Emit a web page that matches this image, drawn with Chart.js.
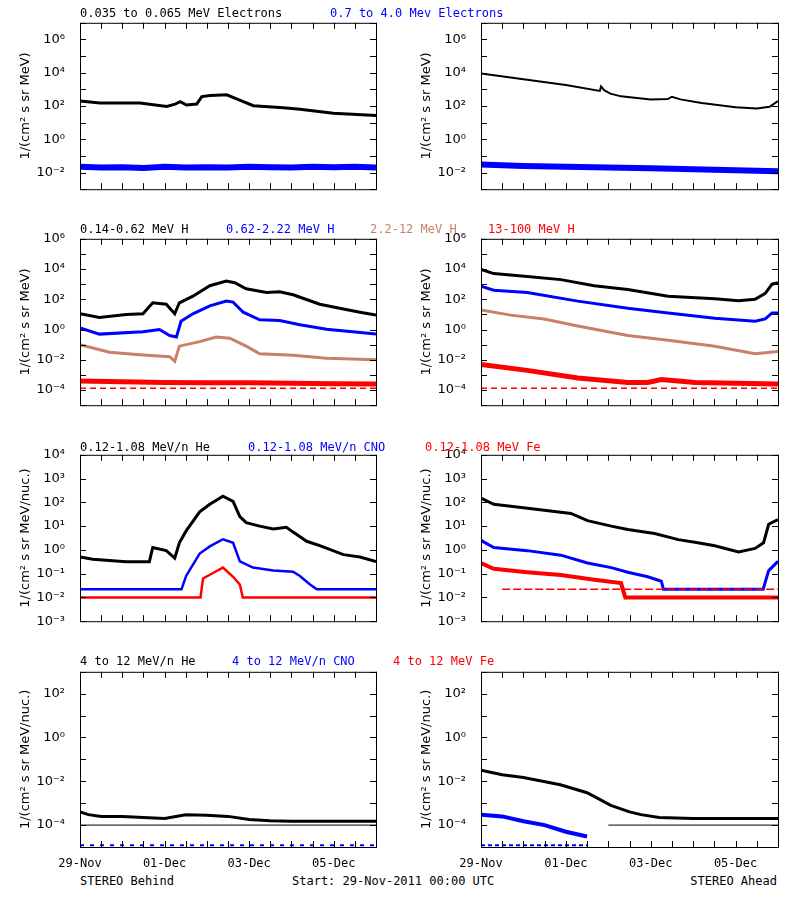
<!DOCTYPE html>
<html><head><meta charset="utf-8">
<script src="https://cdn.jsdelivr.net/npm/chart.js@4/dist/chart.umd.min.js"></script>
<style>
body{margin:0;background:#fff;width:800px;height:900px;position:relative;overflow:hidden;font-family:"DejaVu Sans Mono",monospace;font-size:12px}
canvas{position:absolute}
.t{position:absolute;white-space:pre;font-size:12px;line-height:14px}
</style></head><body>
<script>
// ---------- tick labels ----------
const dateLabels = ['29-Nov','01-Dec','03-Dec','05-Dec'];
// ---------- Row 1: electrons ----------
const e1L_t = [0,0.47,1.42,2.05,2.25,2.37,2.52,2.76,2.88,3.08,3.47,3.79,4.1,4.81,5.2,5.99,7];
const e1L_v = [200,150,150,95,130,180,115,130,370,430,470,220,105,78,63,37,27];
const e2L_t = [0,0.5,1,1.5,2,2.5,3,3.5,4,4.5,5,5.5,6,6.5,7];
const e2L_v = [0.022,0.02,0.021,0.019,0.022,0.02,0.021,0.02,0.022,0.021,0.02,0.022,0.021,0.022,0.02];
const e1R_t = [0,1,2,2.8,2.83,2.9,3.05,3.3,4,4.4,4.5,4.7,5.2,6,6.5,6.8,7];
const e1R_v = [9000,4000,1800,800,1500,900,550,380,250,260,360,250,150,85,70,90,200];
const e2R_t = [0,1,2,3,4,5,6,7];
const e2R_v = [0.03,0.025,0.022,0.02,0.018,0.016,0.014,0.012];
// ---------- Row 2: protons ----------
const h1L_t = [0,0.46,1.09,1.49,1.72,2.04,2.24,2.35,2.67,3.07,3.46,3.66,3.93,4.41,4.72,5.04,5.67,6.23,6.62,7];
const h1L_v = [11,6.3,10,11,59,47,11,59,160,790,1600,1260,500,280,320,200,47,23,14,9];
const h2L_t = [0,0.46,1.49,1.88,2.12,2.28,2.39,2.67,3.07,3.46,3.62,3.86,4.25,4.72,5.2,5.83,7];
const h2L_v = [1.3,0.5,0.72,1.0,0.4,0.32,3.5,11,37,76,65,14,4.4,4.0,2.1,1.05,0.5];
const h3L_t = [0,0.7,1.49,2.12,2.24,2.35,2.83,3.22,3.54,3.93,4.25,5.04,5.83,7];
const h3L_v = [0.1,0.032,0.021,0.016,0.008,0.08,0.16,0.32,0.27,0.08,0.025,0.02,0.0126,0.01];
const h4L_t = [0,1,2,3,4,5,6,7];
const h4L_v = [4e-4,3.5e-4,3.2e-4,3e-4,3e-4,2.8e-4,2.6e-4,2.5e-4];
const h1R_t = [0,0.3,1.09,1.88,2.67,3.46,4.41,5.51,6.07,6.46,6.7,6.86,7];
const h1R_v = [9500,5000,3200,2000,800,450,160,110,80,100,250,1000,1260];
const h2R_t = [0,0.3,1.09,2.28,3.46,4.41,5.51,6.46,6.7,6.86,7];
const h2R_v = [740,400,280,76,26,12.6,5.6,3.5,5,12.6,12.6];
const h3R_t = [0,0.7,1.49,2.28,3.46,4.41,5.51,6.46,7];
const h3R_v = [20,9,5,1.7,0.4,0.2,0.08,0.025,0.035];
const h4R_t = [0,1.09,2.28,3.46,3.93,4.25,4.65,5.04,7];
const h4R_v = [5e-3,2e-3,6.3e-4,3.2e-4,3.2e-4,5e-4,4e-4,3.2e-4,2.5e-4];
const hBase_t = [0,7];
const hBase_v = [1.3e-4,1.3e-4];
// ---------- Row 3: low-energy ions ----------
const he1L_t = [0,0.3,1.09,1.64,1.72,2.04,2.24,2.35,2.51,2.83,3.07,3.38,3.62,3.78,3.93,4.25,4.57,4.88,5.04,5.36,5.67,6.23,6.62,7];
const he1L_v = [0.5,0.4,0.32,0.32,1.26,0.93,0.45,2,6.3,40,83,180,110,25,14,10,7.6,9,5.6,2.3,1.5,0.63,0.5,0.32];
const cno1L_t = [0,2.4,2.51,2.83,3.07,3.38,3.62,3.78,4.09,4.57,5.04,5.2,5.44,5.6,7];
const cno1L_v = [0.022,0.022,0.08,0.7,1.4,2.8,2.0,0.33,0.18,0.135,0.12,0.08,0.035,0.022,0.022];
const fe1L_t = [0,2.85,2.91,3.2,3.38,3.62,3.78,3.85,7];
const fe1L_v = [0.01,0.01,0.063,0.12,0.18,0.074,0.035,0.01,0.01];
const he1R_t = [0,0.3,0.7,1.49,2.12,2.51,3.07,3.46,4.09,4.65,5.04,5.51,6.07,6.46,6.66,6.78,7];
const he1R_v = [150,83,68,46,34,17,10,7.2,4.9,2.7,2.1,1.5,0.81,1.15,2,12,18.6];
const cno1R_t = [0,0.3,1.09,1.88,2.51,3.07,3.46,3.93,4.25,4.3,6.65,6.78,7];
const cno1R_v = [2.5,1.26,0.93,0.6,0.28,0.18,0.115,0.074,0.048,0.022,0.022,0.135,0.33];
const fe1R_t = [0,0.3,1.09,1.88,2.67,3.3,3.4,7];
const fe1R_v = [0.28,0.16,0.115,0.087,0.055,0.04,0.01,0.01];
const feBase_t = [0.5,7];
const feBase_v = [0.022,0.022];
// ---------- Row 4: high-energy ions ----------
const he2L_t = [0,0.2,0.5,1,1.5,2,2.5,3,3.5,4,4.5,5,6,7];
const he2L_v = [4e-4,3e-4,2.5e-4,2.5e-4,2.2e-4,2e-4,3e-4,2.8e-4,2.5e-4,1.8e-4,1.6e-4,1.5e-4,1.5e-4,1.5e-4];
const heLine_t = [0,7];
const heLine_v = [1e-4,1e-4];
const cno2L_t = [0,7];
const cno2L_v = [1.2e-5,1.2e-5];
const he2R_t = [0,0.5,1,1.87,2.5,3.06,3.5,3.77,4.2,5,6,7];
const he2R_v = [0.032,0.02,0.015,0.007,0.003,8e-4,4e-4,3e-4,2.2e-4,2e-4,2e-4,2e-4];
const heLineR_t = [3,7];
const heLineR_v = [1e-4,1e-4];
const cno2R_t = [0,0.5,1,1.5,2,2.5];
const cno2R_v = [3e-4,2.5e-4,1.5e-4,1e-4,5e-5,3e-5];
const cno2Rb_t = [0,2.5];
const cno2Rb_v = [1.2e-5,1.2e-5];

const BLK='#000', BLU='#0000ff', BRN='#c8806a', RED='#ff0000';
const pts=(t,v)=>t.map((x,i)=>({x,y:v[i]}));
const ds=(t,v,c,w,dash)=>({data:pts(t,v),borderColor:c,backgroundColor:c,borderWidth:w||3,pointRadius:0,borderDash:dash||[],tension:0});
const sup={'0':'⁰','1':'¹','2':'²','3':'³','4':'⁴','5':'⁵','6':'⁶','7':'⁷','8':'⁸','9':'⁹','-':'⁻'};
const fmt=e=>'10'+String(e).split('').map(c=>sup[c]).join('');

const frame={id:'frame',afterDraw(ch){
  const c=ch.ctx,a=ch.chartArea;c.save();c.strokeStyle='#000';c.lineWidth=1;
  c.strokeRect(a.left+0.5,a.top+0.5,a.right-a.left,a.bottom-a.top);
  const ys=ch.scales.y, xs=ch.scales.x;
  ys.ticks.forEach(t=>{const p=Math.round(ys.getPixelForValue(t.value))+0.5;
    c.beginPath();c.moveTo(a.left,p);c.lineTo(a.left+6,p);c.moveTo(a.right,p);c.lineTo(a.right-6,p);c.stroke();});
  xs.ticks.forEach(t=>{const p=Math.round(xs.getPixelForValue(t.value))+0.5;
    c.beginPath();c.moveTo(p,a.bottom);c.lineTo(p,a.bottom-6);c.moveTo(p,a.top);c.lineTo(p,a.top+6);c.stroke();});
  c.restore();}};

function panel(left,top,eMin,eMax,labelled,ytitle,datasets,showX){
  const cv=document.createElement('canvas');
  const xh=showX?20:0, H=10+180+xh+6;
  cv.width=400;cv.height=H;cv.style.left=left+'px';cv.style.top=(top-10)+'px';
  document.body.appendChild(cv);
  const ch=new Chart(cv,{type:'line',data:{datasets},plugins:[frame],
    options:{responsive:false,animation:false,devicePixelRatio:1,
      layout:{padding:{top:10,right:left?23:24,bottom:6,left:18}},
      plugins:{legend:{display:false},tooltip:{enabled:false}},
      scales:{
        x:{type:'linear',min:0,max:7,grid:{display:false},border:{display:false},
          afterBuildTicks:s=>{const a=[];for(let i=0;i<=14;i++)a.push({value:i/2});s.ticks=a;},
          ticks:{display:showX,maxRotation:0,autoSkip:false,color:'#000',padding:2,
            font:{family:'DejaVu Sans Mono',size:12},
            callback:v=>(v%2===0&&v/2<dateLabels.length)?dateLabels[v/2]:''},
          afterFit:s=>{s.height=xh;}},
        y:{type:'logarithmic',min:Math.pow(10,eMin),max:Math.pow(10,eMax),grid:{display:false},border:{display:false},
          afterBuildTicks:s=>{const a=[];for(let e=eMin;e<=eMax;e++)a.push({value:Math.pow(10,e)});s.ticks=a;},
          ticks:{autoSkip:false,color:'#000',padding:7,font:{family:'DejaVu Sans',size:13},
            callback:(v)=>{const e=Math.round(Math.log10(v));return labelled.includes(e)?fmt(e):'';}},
          title:{display:true,text:ytitle,color:'#000',font:{family:'DejaVu Sans',size:13},padding:{top:0,bottom:0}},
          afterFit:s=>{s.width=62;}}
      }}});
  const ph=ch.chartArea.bottom-ch.chartArea.top;
  if(Math.abs(ph-180)>0.5){ch.resize(400,H+(180-ph));}
  cv.style.top=(top-ch.chartArea.top)+'px';
}
const T1='1/(cm² s sr MeV)', T2='1/(cm² s sr MeV/nuc.)';
panel(0,23,-3,7,[6,4,2,0,-2],T1,[ds(e2L_t,e2L_v,BLU,6),ds(e1L_t,e1L_v,BLK,3)],false);
panel(401,23,-3,7,[6,4,2,0,-2],T1,[ds(e2R_t,e2R_v,BLU,6),ds(e1R_t,e1R_v,BLK,2)],false);
panel(0,239,-5,6,[6,4,2,0,-2,-4],T1,[ds(hBase_t,hBase_v,RED,1.5,[6,4]),ds(h4L_t,h4L_v,RED,5),ds(h3L_t,h3L_v,BRN,3),ds(h2L_t,h2L_v,BLU,3),ds(h1L_t,h1L_v,BLK,3)],false);
panel(401,239,-5,6,[6,4,2,0,-2,-4],T1,[ds(hBase_t,hBase_v,RED,1.5,[6,4]),ds(h4R_t,h4R_v,RED,5),ds(h3R_t,h3R_v,BRN,3),ds(h2R_t,h2R_v,BLU,3),ds(h1R_t,h1R_v,BLK,3)],false);
panel(0,455,-3,4,[4,3,2,1,0,-1,-2,-3],T2,[ds(cno1L_t,cno1L_v,BLU,2.5),ds(fe1L_t,fe1L_v,RED,2.5),ds(he1L_t,he1L_v,BLK,3)],false);
panel(401,455,-3,4,[4,3,2,1,0,-1,-2,-3],T2,[ds(feBase_t,feBase_v,RED,1.5,[8,3]),ds(cno1R_t,cno1R_v,BLU,3),ds(fe1R_t,fe1R_v,RED,4),ds(he1R_t,he1R_v,BLK,3)],false);
panel(0,672,-5,3,[2,0,-2,-4],T2,[ds(cno2L_t,cno2L_v,BLU,2,[4,6]),ds(heLine_t,heLine_v,BLK,1),ds(he2L_t,he2L_v,BLK,3)],true);
panel(401,672,-5,3,[2,0,-2,-4],T2,[ds(cno2Rb_t,cno2Rb_v,BLU,2,[4,3]),ds(cno2R_t,cno2R_v,BLU,4),ds(heLineR_t,heLineR_v,BLK,1),ds(he2R_t,he2R_v,BLK,3)],true);

const texts=[
 ['0.035 to 0.065 MeV Electrons',80,6,BLK],['0.7 to 4.0 Mev Electrons',330,6,BLU],
 ['0.14-0.62 MeV H',80,222,BLK],['0.62-2.22 MeV H',226,222,BLU],['2.2-12 MeV H',370,222,BRN],['13-100 MeV H',488,222,RED],
 ['0.12-1.08 MeV/n He',80,440,BLK],['0.12-1.08 MeV/n CNO',248,440,BLU],['0.12-1.08 MeV Fe',425,440,RED],
 ['4 to 12 MeV/n He',80,654,BLK],['4 to 12 MeV/n CNO',232,654,BLU],['4 to 12 MeV Fe',393,654,RED],
 ['STEREO Behind',80,874,BLK],['Start: 29-Nov-2011 00:00 UTC',292,874,BLK]];
texts.forEach(([s,x,y,c])=>{const d=document.createElement('div');d.className='t';d.textContent=s;d.style.left=x+'px';d.style.top=y+'px';d.style.color=c;document.body.appendChild(d);});
const r=document.createElement('div');r.className='t';r.textContent='STEREO Ahead';r.style.right='23px';r.style.top='874px';document.body.appendChild(r);
</script>
</body></html>
